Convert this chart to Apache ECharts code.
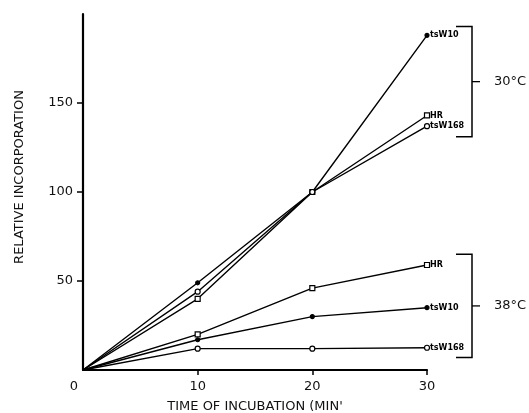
<!DOCTYPE html>
<html lang="en">
<head>
    <meta charset="UTF-8" />
    <title>Relative incorporation</title>
    <script src="https://cdn.jsdelivr.net/npm/echarts@6/dist/echarts.min.js"></script>
    <style>
        body { margin: 0; background: #fff; }
        #chart { width: 529px; height: 413px; }
    </style>
</head>
<body>
    <div id="chart"></div>
    <script type="text/javascript">
        // values
        const times = [0, 10, 20, 30];
        const hr30 = [0, 40, 100, 143];
        const tsW10_30 = [0, 49, 100, 188];
        const tsW168_30 = [0, 44, 100, 137];
        const hr38 = [0, 20, 46, 59];
        const tsW10_38 = [0, 17, 30, 35];
        const tsW168_38 = [0, 12, 12, 12.5];
        const yTicks = [50, 100, 150];
        const xTicks = [10, 20, 30];
        // brackets: [label, top value, bottom value]
        const brackets = [['30°C', 193, 131], ['38°C', 65, 7]];

        const font = 'DejaVu Sans';
        const pts = (arr) => times.map((t, i) => [t, arr[i]]);

        function line(name, data, symbol, filled, tag) {
            const size = filled ? 4 : 5;
            return {
                type: 'line', name: name, data: pts(data),
                symbol: symbol,
                symbolSize: (v) => v[0] === 0 ? 0 : size,
                itemStyle: { color: filled ? '#000' : '#fff', borderColor: '#000', borderWidth: 1.2 },
                lineStyle: { color: '#000', width: 1.4 },
                animation: false, z: 3,
                endLabel: { show: true, formatter: tag, color: '#000', fontFamily: font,
                    fontSize: 8, fontWeight: 'bold', distance: 3 }
            };
        }

        const chart = echarts.init(document.getElementById('chart'), null, { renderer: 'canvas' });
        chart.setOption({
            backgroundColor: '#fff',
            grid: { left: 83, right: 102, top: 14, bottom: 43, containLabel: false, outerBoundsMode: 'none' },
            xAxis: {
                type: 'value', min: 0, max: 30, interval: 10,
                name: 'TIME OF INCUBATION (MIN\'', nameLocation: 'middle', nameGap: 30,
                nameTextStyle: { fontFamily: font, fontSize: 13, color: '#111' },
                axisLine: { lineStyle: { color: '#000', width: 2.2 } },
                axisTick: { show: true, length: 5, customValues: xTicks, lineStyle: { color: '#000', width: 1.5 } },
                axisLabel: {
                    margin: 10, color: '#111', fontFamily: font, fontSize: 13,
                    formatter: (v) => v === 0 ? '{z|0}' : String(v),
                    rich: { z: { fontFamily: font, fontSize: 13, color: '#111', padding: [0, 18, 0, 0] } }
                },
                splitLine: { show: false }
            },
            yAxis: {
                type: 'value', min: 0, max: 200, interval: 50,
                name: 'RELATIVE INCORPORATION', nameLocation: 'middle', nameGap: 57,
                nameTextStyle: { fontFamily: font, fontSize: 13, color: '#111', padding: [0, 0, 0, 30] },
                axisLine: { show: true, lineStyle: { color: '#000', width: 2.2 } },
                axisTick: { show: true, length: 6, customValues: yTicks, lineStyle: { color: '#000', width: 1.5 } },
                axisLabel: {
                    margin: 10, color: '#111', fontFamily: font, fontSize: 13,
                    formatter: (v) => yTicks.includes(v) ? String(v) : ''
                },
                splitLine: { show: false }
            },
            series: [
                line('HR 30', hr30, 'rect', false, 'HR'),
                line('tsW10 30', tsW10_30, 'circle', true, 'tsW10'),
                line('tsW168 30', tsW168_30, 'circle', false, 'tsW168'),
                line('HR 38', hr38, 'rect', false, 'HR'),
                line('tsW10 38', tsW10_38, 'circle', true, 'tsW10'),
                line('tsW168 38', tsW168_38, 'circle', false, 'tsW168')
            ]
        });

        // draw the temperature brackets right of the plot
        const graphics = [];
        const xEnd = chart.convertToPixel({ gridIndex: 0 }, [30, 0])[0];
        brackets.forEach(([label, top, bottom]) => {
            const yt = chart.convertToPixel({ yAxisIndex: 0 }, top);
            const yb = chart.convertToPixel({ yAxisIndex: 0 }, bottom);
            const xb = xEnd + 45;
            const ym = (yt + yb) / 2;
            graphics.push({
                type: 'polyline', silent: true,
                shape: { points: [[xb - 16, yt], [xb, yt], [xb, yb], [xb - 16, yb]] },
                style: { stroke: '#000', lineWidth: 1.5, fill: null }
            });
            graphics.push({
                type: 'line', silent: true,
                shape: { x1: xb, y1: ym, x2: xb + 8, y2: ym },
                style: { stroke: '#000', lineWidth: 1.3 }
            });
            graphics.push({
                type: 'text', silent: true, x: xb + 22, y: ym,
                style: { text: label, fontFamily: font, fontSize: 13, fill: '#111', verticalAlign: 'middle' }
            });
        });
        chart.setOption({ graphic: graphics });
    </script>
</body>
</html>
